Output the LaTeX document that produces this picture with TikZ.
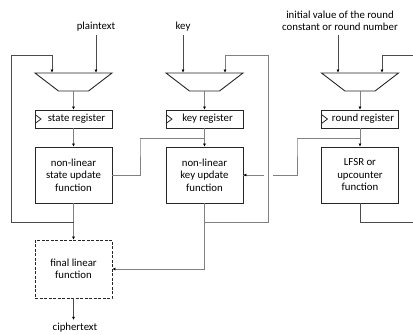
\documentclass[tikz,border=0pt]{standalone}
\usepackage{fontspec}
\setmainfont{Carlito}
\usetikzlibrary{arrows.meta, positioning, calc, shapes.geometric}

\begin{document}
\begin{tikzpicture}[
        x=1pt, y=-1pt,
        font=\fontsize{10.8}{12.5}\selectfont,
        mux/.style={trapezium, trapezium stretches=true, trapezium angle=52, shape border rotate=180, draw=black!85, line width=0.9pt, minimum width=77pt, minimum height=18pt, inner sep=1pt},
        register/.style={rectangle, draw=black!85, line width=0.9pt, minimum width=77pt, minimum height=18pt, inner sep=0pt,
            path picture={\draw[line width=0.8pt] ([yshift=4.5pt]path picture bounding box.west) -- ++(6pt,-4.5pt) -- ++(-6pt,-4.5pt);}},
        func/.style={rectangle, draw=black!85, line width=0.9pt, minimum width=77pt, minimum height=56pt, align=center},
        linfunc/.style={func, dash pattern=on 3pt off 1.5pt, minimum height=58pt},
        wire/.style={draw=black!50, line width=0.7pt},
        arrow/.style={wire, -{Latex[length=3pt,width=3pt,black]}}
    ]
    \useasboundingbox (0,0) rectangle (413,335);

    % Inputs
    \node (plain) at (96,27) {plaintext};
    \node (key) at (183,27) {key};
    \node[align=center] (rinit) at (340,21) {initial value of the round\\constant or round number};

    % Multiplexers
    \node[mux] (smux) at (73.5,82) {};
    \node[mux] (kmux) at (204.5,82) {};
    \node[mux] (rmux) at (360,82) {};

    % Registers
    \node[register] (sreg) at (73.5,119) {\hspace{6pt}state register};
    \node[register] (kreg) at (204.5,119) {\hspace{6pt}key register};
    \node[register] (rreg) at (360,119) {\hspace{6pt}round register};

    % Update functions
    \node[func] (snl) at (73.5,175) {non-linear\\state update\\function};
    \node[func] (knl) at (204.5,175) {non-linear\\key update\\function};
    \node[func] (lfsr) at (360,175) {LFSR or\\upcounter\\function};
    \node[linfunc] (fin) at (73.5,269) {final linear\\function};
    \node (cipher) at (75,328) {ciphertext};

    % Corner points of the feedback loops
    \coordinate (sbr) at (73.5,222);
    \coordinate (sfb) at (11,55);
    \coordinate (kbr) at (204.5,222);
    \coordinate (kfb) at (268,55);
    \coordinate (kout) at (140,138);
    \coordinate (rout) at (297,138);
    \coordinate (rfb) at (413,55);
    \coordinate (rend) at (413,222);

    % Data inputs
    \draw[arrow, draw=black!70] (plain) -- (plain |- smux.north);
    \draw[arrow, draw=black!70] (key) -- (key |- kmux.north);
    \draw[arrow, draw=black!70] ([xshift=-2pt]rinit.south) -- ([xshift=-2pt]rinit.south |- rmux.north);

    % Main paths
    \draw[arrow] (smux) -- (sreg);
    \draw[arrow] (sreg) -- (snl);
    \draw[arrow] (snl) -- (fin);
    \draw[arrow, draw=black!70] (fin) -- (fin |- cipher.north);
    \draw[arrow] (kmux) -- (kreg);
    \draw[arrow] (kreg) -- (knl);
    \draw[arrow] (knl) |- (fin);
    \draw[arrow] (rmux) -- (rreg);
    \draw[arrow] (rreg) -- (lfsr);

    % Feedback
    \draw[arrow, draw=black!70] (sbr) -| (sfb) -| ([xshift=-21.5pt]smux.north);
    \draw[wire] (kreg.south) ++(0,10) -| (kout) |- (snl);
    \draw[wire] (rreg.south) ++(0,10) -| (rout) |- (knl);
    \draw[arrow] (rout |- knl.east) -- (knl);
    \path[draw=white, line width=5pt] (kfb |- knl.east) ++(-4.5,0) -- ++(9,0);
    \draw[arrow] (kbr) -| (kfb) -| ([xshift=20.5pt]kmux.north);
    \draw[arrow, draw=black!70] (rfb) -| ([xshift=22pt]rmux.north);
    \draw[wire, draw=black!70] (lfsr) |- (rend);

\end{tikzpicture}
\end{document}
